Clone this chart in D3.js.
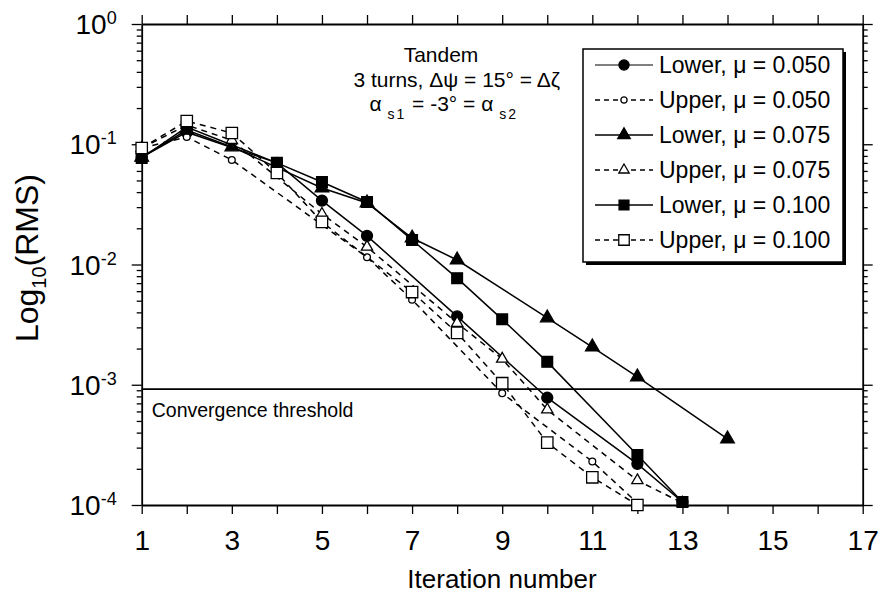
<!DOCTYPE html>
<html>
<head>
<meta charset="utf-8">
<script src="https://cdn.jsdelivr.net/npm/d3@7"></script>
<style>
  body { margin: 0; background: #fff; }
  svg { font-family: "Liberation Sans", Arial, sans-serif; }
  .axis path, .axis line { stroke: #000; }
  .axis path { stroke-width: 1.8; }
  .axis line { stroke-width: 1.3; }
  .axis text { font-size: 28px; fill: #000; font-family: "Liberation Sans", Arial, sans-serif; }
</style>
</head>
<body>
<svg width="887" height="599">
  <g class="chart"></g>
  <g class="legend"></g>
</svg>
<script>
// iterations / RMS (only points with a visible marker)
const lower050X = [1, 2, 4, 5, 6, 8, 10, 12, 13]
const lower050Y = [0.078, 0.126, 0.070, 0.034, 0.0173, 0.0037, 0.00078, 0.00022, 0.000106]
const upper050X = [1, 2, 3, 6, 7, 9, 11, 12]
const upper050Y = [0.093, 0.115, 0.074, 0.0115, 0.0051, 0.00085, 0.00023, 0.000104]
const lower075X = [1, 2, 3, 5, 6, 7, 8, 10, 11, 12, 14]
const lower075Y = [0.078, 0.131, 0.095, 0.0433, 0.0325, 0.0166, 0.0109, 0.0036, 0.00206, 0.00116, 0.000354]
const upper075X = [1, 2, 3, 5, 6, 8, 9, 10, 12, 13]
const upper075Y = [0.093, 0.1445, 0.108, 0.0263, 0.014, 0.00326, 0.00164, 0.00062, 0.00016, 0.000104]
const lower100X = [1, 2, 4, 5, 6, 7, 8, 9, 10, 12, 13]
const lower100Y = [0.077, 0.139, 0.070, 0.0485, 0.0331, 0.016, 0.0077, 0.0035, 0.00155, 0.00026, 0.000106]
const upper100X = [1, 2, 3, 4, 5, 7, 8, 9, 10, 11, 12]
const upper100Y = [0.093, 0.156, 0.124, 0.0577, 0.0226, 0.0059, 0.0027, 0.00103, 0.00033, 0.00017, 0.0001]

const seriesNames = ['Lower, μ = 0.050', 'Upper, μ = 0.050', 'Lower, μ = 0.075',
  'Upper, μ = 0.075', 'Lower, μ = 0.100', 'Upper, μ = 0.100']
const xTicks = d3.range(1, 18)
const yDecades = [1e-4, 1e-3, 1e-2, 1e-1, 1]
const yExponents = ['-4', '-3', '-2', '-1', '0']
const threshold = 0.00092

const $svg = d3.select('svg')
const $gVis = $svg.select('.chart')
const $gLegend = $svg.select('.legend')

const MARGIN = { top: 24, right: 24.3, bottom: 94, left: 141.7 }
const width = 887, height = 599
const boundedWidth = width - MARGIN.left - MARGIN.right
const boundedHeight = height - MARGIN.top - MARGIN.bottom

const xScale = d3.scaleLinear().domain([1, 17]).range([0, boundedWidth])
const yScale = d3.scaleLog().domain([1e-4, 1]).range([boundedHeight, 0])

// marker styles per series
const styles = [
  { dash: null, sym: d3.symbolCircle, size: 95, fill: '#000' },
  { dash: '6,5', sym: d3.symbolCircle, size: 36, fill: '#fff' },
  { dash: null, sym: d3.symbolTriangle, size: 80, fill: '#000' },
  { dash: '6,5', sym: d3.symbolTriangle, size: 55, fill: '#fff' },
  { dash: null, sym: d3.symbolSquare, size: 115, fill: '#000' },
  { dash: '6,5', sym: d3.symbolSquare, size: 130, fill: '#fff' }
]

const seriesX = [lower050X, upper050X, lower075X, upper075X, lower100X, upper100X]
const seriesY = [lower050Y, upper050Y, lower075Y, upper075Y, lower100Y, upper100Y]

function drawChart() {
  $gVis.attr('transform', `translate(${MARGIN.left}, ${MARGIN.top})`)

  // bottom / top axes
  $gVis.append('g')
    .attr('class', 'axis x-axis')
    .attr('transform', `translate(0, ${boundedHeight})`)
    .call(d3.axisBottom(xScale).tickValues(xTicks).tickSize(9).tickSizeOuter(0).tickPadding(16)
      .tickFormat(d => d % 2 === 1 ? d : ''))

  $gVis.append('g')
    .attr('class', 'axis')
    .call(d3.axisTop(xScale).tickValues(xTicks).tickSize(9).tickSizeOuter(0).tickFormat(''))

  // log minor ticks
  const minors = []
  yDecades.slice(0, -1).forEach(p => d3.range(2, 10).forEach(k => minors.push(p * k)))

  $gVis.append('g')
    .attr('class', 'axis y-axis')
    .call(d3.axisLeft(yScale).tickValues(yDecades).tickSize(10).tickSizeOuter(0).tickFormat(''))
  $gVis.append('g')
    .attr('class', 'axis')
    .call(d3.axisLeft(yScale).tickValues(minors).tickSize(5).tickSizeOuter(0).tickFormat(''))
    .select('.domain').remove()

  $gVis.append('g')
    .attr('class', 'axis')
    .attr('transform', `translate(${boundedWidth}, 0)`)
    .call(d3.axisRight(yScale).tickValues(yDecades).tickSize(10).tickSizeOuter(0).tickFormat(''))
  $gVis.append('g')
    .attr('class', 'axis')
    .attr('transform', `translate(${boundedWidth}, 0)`)
    .call(d3.axisRight(yScale).tickValues(minors).tickSize(5).tickSizeOuter(0).tickFormat(''))
    .select('.domain').remove()

  // y labels with superscripts
  const yLab = $gVis.append('g').selectAll('text')
    .data(yDecades)
    .enter().append('text')
    .attr('x', -25)
    .attr('y', d => yScale(d) + 10)
    .attr('text-anchor', 'end')
    .attr('font-size', 28)
  yLab.append('tspan').text('10')
  yLab.append('tspan')
    .attr('font-size', 18)
    .attr('dy', -10)
    .text((d, i) => yExponents[i])

  // threshold
  $gVis.append('line')
    .attr('x1', 0).attr('x2', boundedWidth)
    .attr('y1', yScale(threshold)).attr('y2', yScale(threshold))
    .attr('stroke', '#000').attr('stroke-width', 1.6)
  $gVis.append('text')
    .attr('x', 10).attr('y', yScale(threshold) + 28)
    .attr('font-size', 19.5)
    .text('Convergence threshold')

  // series
  const line = d3.line().x(d => xScale(d[0])).y(d => yScale(d[1]))
  seriesX.forEach((xs, i) => {
    const pts = xs.map((x, j) => [x, seriesY[i][j]])
    const st = styles[i]
    $gVis.append('path')
      .datum(pts)
      .attr('d', line)
      .attr('fill', 'none')
      .attr('stroke', '#000')
      .attr('stroke-width', 1.5)
      .attr('stroke-dasharray', st.dash)
    $gVis.append('g').selectAll('path')
      .data(pts)
      .enter().append('path')
      .attr('transform', d => `translate(${xScale(d[0])}, ${yScale(d[1])})`)
      .attr('d', d3.symbol().type(st.sym).size(st.size))
      .attr('fill', st.fill)
      .attr('stroke', '#000')
      .attr('stroke-width', 1.3)
  })

  // annotation
  $svg.append('text')
    .attr('x', 441).attr('y', 62)
    .attr('text-anchor', 'middle').attr('font-size', 21)
    .text('Tandem')
  $svg.append('text')
    .attr('x', 560).attr('y', 87)
    .attr('text-anchor', 'end').attr('font-size', 21)
    .text('3 turns, Δψ = 15° = Δζ')
  const t3 = $svg.append('text')
    .attr('x', 518).attr('y', 111)
    .attr('text-anchor', 'end').attr('font-size', 21)
  t3.append('tspan').text('α')
  t3.append('tspan').attr('font-size', 14).attr('dy', 8).attr('letter-spacing', 2).text(' s1')
  t3.append('tspan').attr('dy', -8).text(' = -3° = α')
  t3.append('tspan').attr('font-size', 14).attr('dy', 8).attr('letter-spacing', 2).text(' s2')

  // axis titles
  $svg.append('text')
    .attr('x', 502).attr('y', 588)
    .attr('text-anchor', 'middle').attr('font-size', 26)
    .text('Iteration number')
  const yt = $svg.append('text')
    .attr('transform', 'translate(38, 258) rotate(-90)')
    .attr('text-anchor', 'middle').attr('font-size', 32)
  yt.append('tspan').text('Log')
  yt.append('tspan').attr('font-size', 20).attr('dy', 8).text('10')
  yt.append('tspan').attr('dy', -8).text('(RMS)')
}

function drawLegend() {
  const x0 = 583, y0 = 49, w = 260, h = 213
  $gLegend.append('rect')
    .attr('x', x0 + 3).attr('y', y0 + 3).attr('width', w).attr('height', h)
    .attr('fill', '#000')
  $gLegend.append('rect')
    .attr('x', x0).attr('y', y0).attr('width', w).attr('height', h)
    .attr('fill', '#fff').attr('stroke', '#000').attr('stroke-width', 1.5)

  const rows = $gLegend.selectAll('.row')
    .data(seriesNames)
    .enter().append('g')
    .attr('class', 'row')
    .attr('transform', (d, i) => `translate(0, ${65 + i * 35})`)

  rows.append('line')
    .attr('x1', 595).attr('x2', 653)
    .attr('stroke', '#000')
    .attr('stroke-width', (d, i) => i === 0 ? 1 : 1.4)
    .attr('stroke-dasharray', (d, i) => styles[i].dash ? '5,4' : null)
  rows.append('path')
    .attr('transform', 'translate(624, 0)')
    .attr('d', (d, i) => d3.symbol().type(styles[i].sym).size(styles[i].size * 0.85)())
    .attr('fill', (d, i) => styles[i].fill)
    .attr('stroke', '#000').attr('stroke-width', 1.3)
  rows.append('text')
    .attr('x', 659).attr('y', 8)
    .attr('font-size', 23)
    .text(d => d)
}

drawChart()
drawLegend()
</script>
</body>
</html>
